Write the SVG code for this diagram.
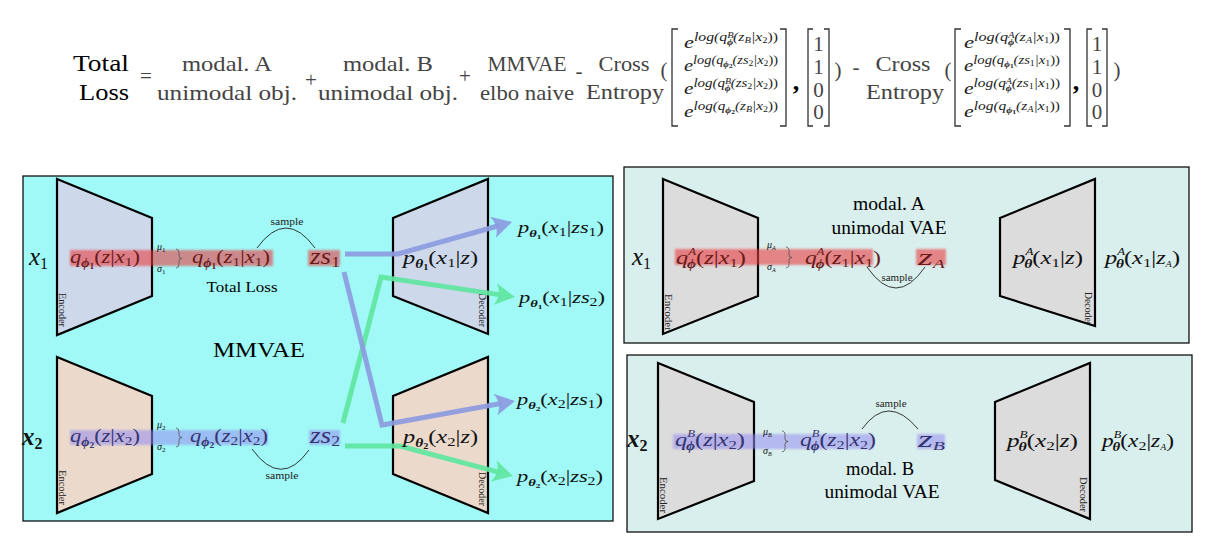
<svg xmlns="http://www.w3.org/2000/svg" width="1211" height="553" viewBox="0 0 1211 553">
<style>
.lbl{font-family:"Liberation Serif",serif;fill:#444;font-size:21px}
.blk{font-family:"Liberation Serif",serif;fill:#000}
.m{font-family:"Liberation Serif",serif;font-style:italic;fill:#111}
.fm{font-family:"Liberation Serif",serif;font-style:italic;fill:#222;font-size:17px}
.up{font-style:normal}
.b{font-weight:bold}
.tiny{font-family:"Liberation Serif",serif;font-size:10px;fill:#222}
.rot{font-family:"Liberation Serif",serif;font-size:9.5px;fill:#222}
.panel{stroke:#111;stroke-width:1.3}
.trap{stroke:#000;stroke-width:2.2;stroke-linejoin:miter}
.brk{fill:none;stroke:#333;stroke-width:1.3}
.arc{fill:none;stroke:#222;stroke-width:0.9}
.red{fill:rgb(235,55,60);fill-opacity:0.58}
.blu{fill:rgb(150,140,240);fill-opacity:0.55}
.rt{fill:#6b1a1a}
.bt{fill:#34346e}
.cp{fill:none;stroke:#8c9be0;stroke-opacity:0.92;stroke-width:5;stroke-linejoin:miter}
.cg{fill:none;stroke:#5fe6a0;stroke-opacity:0.92;stroke-width:5;stroke-linejoin:miter}
</style>
<defs>
<filter id="soft" x="-5%" y="-40%" width="110%" height="180%"><feGaussianBlur stdDeviation="1"/></filter>
<path id="brace" d="M0,0 Q3,0 3,4 L3,7 Q3,9.5 6,9.5 Q3,9.5 3,12 L3,15 Q3,19 0,19" fill="none" stroke="#555" stroke-width="0.8"/>
<marker id="ap" viewBox="0 0 20 22" refX="7" refY="11" markerWidth="20" markerHeight="22" markerUnits="userSpaceOnUse" orient="auto"><path d="M0,0 L20,11 L0,22 Q7,11 0,0Z" fill="#8c9be0" fill-opacity="0.92"/></marker>
<marker id="ag" viewBox="0 0 20 22" refX="7" refY="11" markerWidth="20" markerHeight="22" markerUnits="userSpaceOnUse" orient="auto"><path d="M0,0 L20,11 L0,22 Q7,11 0,0Z" fill="#5fe6a0" fill-opacity="0.92"/></marker>
</defs>
<rect width="1211" height="553" fill="#fff"/>

<g id="formula">
<text class="blk" x="101" y="71" font-size="24" text-anchor="middle" textLength="56" lengthAdjust="spacingAndGlyphs">Total</text>
<text class="blk" x="104" y="100" font-size="24" text-anchor="middle" textLength="50" lengthAdjust="spacingAndGlyphs">Loss</text>
<text class="lbl" x="146" y="83" text-anchor="middle">=</text>
<text class="lbl" x="227" y="71" text-anchor="middle" textLength="90" lengthAdjust="spacingAndGlyphs">modal. A</text>
<text class="lbl" x="227" y="100" text-anchor="middle" textLength="140" lengthAdjust="spacingAndGlyphs">unimodal obj.</text>
<text class="lbl" x="311" y="87" text-anchor="middle">+</text>
<text class="lbl" x="388" y="71" text-anchor="middle" textLength="90" lengthAdjust="spacingAndGlyphs">modal. B</text>
<text class="lbl" x="388" y="100" text-anchor="middle" textLength="140" lengthAdjust="spacingAndGlyphs">unimodal obj.</text>
<text class="lbl" x="465" y="83" text-anchor="middle">+</text>
<text class="lbl" x="527" y="71" text-anchor="middle" textLength="79" lengthAdjust="spacingAndGlyphs">MMVAE</text>
<text class="lbl" x="527" y="100" text-anchor="middle" textLength="94" lengthAdjust="spacingAndGlyphs">elbo naive</text>
<text class="lbl" x="579" y="78" text-anchor="middle">-</text>
<text class="lbl" x="624" y="71" text-anchor="middle" textLength="51" lengthAdjust="spacingAndGlyphs">Cross</text>
<text class="lbl" x="625" y="99" text-anchor="middle" textLength="78" lengthAdjust="spacingAndGlyphs">Entropy</text>
<text class="lbl" x="664" y="77" font-size="30" text-anchor="middle">(</text>
<path class="brk" d="M678,29 L672,29 L672,126 L678,126"/>
<path class="brk" d="M780,29 L786,29 L786,126 L780,126"/>
<text class="fm" x="731" y="48" text-anchor="middle" textLength="94" lengthAdjust="spacingAndGlyphs">e<tspan font-size="12" dy="-7">log(q</tspan><tspan font-size="8" dy="-3">B</tspan><tspan font-size="8" class="b" dx="-5" dy="7">ϕ</tspan><tspan font-size="12" dy="-4">(z</tspan><tspan font-size="8" dy="2">B</tspan><tspan font-size="12" dy="-2">|x</tspan><tspan font-size="8" class="up" dy="2">2</tspan><tspan font-size="12" class="up" dy="-2">))</tspan></text>
<text class="fm" x="731" y="71" text-anchor="middle" textLength="94" lengthAdjust="spacingAndGlyphs">e<tspan font-size="12" dy="-7">log(q</tspan><tspan font-size="8" class="b" dy="3">ϕ</tspan><tspan font-size="6" class="up b" dy="1">2</tspan><tspan font-size="12" dy="-4">(zs</tspan><tspan font-size="8" class="up" dy="2">2</tspan><tspan font-size="12" dy="-2">|x</tspan><tspan font-size="8" class="up" dy="2">2</tspan><tspan font-size="12" class="up" dy="-2">))</tspan></text>
<text class="fm" x="731" y="94" text-anchor="middle" textLength="94" lengthAdjust="spacingAndGlyphs">e<tspan font-size="12" dy="-7">log(q</tspan><tspan font-size="8" dy="-3">B</tspan><tspan font-size="8" class="b" dx="-5" dy="7">ϕ</tspan><tspan font-size="12" dy="-4">(zs</tspan><tspan font-size="8" class="up" dy="2">2</tspan><tspan font-size="12" dy="-2">|x</tspan><tspan font-size="8" class="up" dy="2">2</tspan><tspan font-size="12" class="up" dy="-2">))</tspan></text>
<text class="fm" x="731" y="117" text-anchor="middle" textLength="94" lengthAdjust="spacingAndGlyphs">e<tspan font-size="12" dy="-7">log(q</tspan><tspan font-size="8" class="b" dy="3">ϕ</tspan><tspan font-size="6" class="up b" dy="1">2</tspan><tspan font-size="12" dy="-4">(z</tspan><tspan font-size="8" dy="2">B</tspan><tspan font-size="12" dy="-2">|x</tspan><tspan font-size="8" class="up" dy="2">2</tspan><tspan font-size="12" class="up" dy="-2">))</tspan></text>
<text class="blk" x="796" y="90" font-size="26" font-weight="bold" text-anchor="middle" fill="#333">,</text>
<path class="brk" d="M813,29 L808,29 L808,126 L813,126"/>
<path class="brk" d="M824,29 L829,29 L829,126 L824,126"/>
<g class="lbl" font-size="16" text-anchor="middle"><text x="818.5" y="51">1</text><text x="818.5" y="74">1</text><text x="818.5" y="97">0</text><text x="818.5" y="119">0</text></g>
<text class="lbl" x="838" y="77" font-size="30" text-anchor="middle">)</text>
<text class="lbl" x="856" y="74" text-anchor="middle">-</text>
<text class="lbl" x="903" y="71" text-anchor="middle" textLength="55" lengthAdjust="spacingAndGlyphs">Cross</text>
<text class="lbl" x="905" y="99" text-anchor="middle" textLength="78" lengthAdjust="spacingAndGlyphs">Entropy</text>
<text class="lbl" x="948" y="77" font-size="30" text-anchor="middle">(</text>
<path class="brk" d="M961,29 L955,29 L955,126 L961,126"/>
<path class="brk" d="M1064,29 L1070,29 L1070,126 L1064,126"/>
<text class="fm" x="1012" y="48" text-anchor="middle" textLength="96" lengthAdjust="spacingAndGlyphs">e<tspan font-size="12" dy="-7">log(q</tspan><tspan font-size="8" dy="-3">A</tspan><tspan font-size="8" class="b" dx="-5" dy="7">ϕ</tspan><tspan font-size="12" dy="-4">(z</tspan><tspan font-size="8" dy="2">A</tspan><tspan font-size="12" dy="-2">|x</tspan><tspan font-size="8" class="up" dy="2">1</tspan><tspan font-size="12" class="up" dy="-2">))</tspan></text>
<text class="fm" x="1012" y="71" text-anchor="middle" textLength="96" lengthAdjust="spacingAndGlyphs">e<tspan font-size="12" dy="-7">log(q</tspan><tspan font-size="8" class="b" dy="3">ϕ</tspan><tspan font-size="6" class="up b" dy="1">1</tspan><tspan font-size="12" dy="-4">(zs</tspan><tspan font-size="8" class="up" dy="2">1</tspan><tspan font-size="12" dy="-2">|x</tspan><tspan font-size="8" class="up" dy="2">1</tspan><tspan font-size="12" class="up" dy="-2">))</tspan></text>
<text class="fm" x="1012" y="94" text-anchor="middle" textLength="96" lengthAdjust="spacingAndGlyphs">e<tspan font-size="12" dy="-7">log(q</tspan><tspan font-size="8" dy="-3">A</tspan><tspan font-size="8" class="b" dx="-5" dy="7">ϕ</tspan><tspan font-size="12" dy="-4">(zs</tspan><tspan font-size="8" class="up" dy="2">1</tspan><tspan font-size="12" dy="-2">|x</tspan><tspan font-size="8" class="up" dy="2">1</tspan><tspan font-size="12" class="up" dy="-2">))</tspan></text>
<text class="fm" x="1012" y="117" text-anchor="middle" textLength="96" lengthAdjust="spacingAndGlyphs">e<tspan font-size="12" dy="-7">log(q</tspan><tspan font-size="8" class="b" dy="3">ϕ</tspan><tspan font-size="6" class="up b" dy="1">1</tspan><tspan font-size="12" dy="-4">(z</tspan><tspan font-size="8" dy="2">A</tspan><tspan font-size="12" dy="-2">|x</tspan><tspan font-size="8" class="up" dy="2">1</tspan><tspan font-size="12" class="up" dy="-2">))</tspan></text>
<text class="blk" x="1076" y="90" font-size="26" font-weight="bold" text-anchor="middle" fill="#333">,</text>
<path class="brk" d="M1092,29 L1087,29 L1087,126 L1092,126"/>
<path class="brk" d="M1102,29 L1107,29 L1107,126 L1102,126"/>
<g class="lbl" font-size="16" text-anchor="middle"><text x="1097" y="51">1</text><text x="1097" y="74">1</text><text x="1097" y="97">0</text><text x="1097" y="119">0</text></g>
<text class="lbl" x="1117" y="77" font-size="30" text-anchor="middle">)</text>
</g>

<g id="mmvae-panel">
<rect class="panel" x="23" y="176" width="590" height="345" fill="#a0f9f6" stroke-width="1.6"/>
<text class="blk" x="259" y="357" font-size="22" text-anchor="middle" textLength="92" lengthAdjust="spacingAndGlyphs">MMVAE</text>
<text class="blk" x="242" y="292" font-size="15" text-anchor="middle" fill="#333" textLength="71" lengthAdjust="spacingAndGlyphs">Total Loss</text>
</g>

<g id="encoder1">
<polygon class="trap" points="57,179 152,218 152,296 57,335" fill="#cdd9ea"/>
<text class="rot" transform="translate(59,293) rotate(90)" textLength="34" lengthAdjust="spacingAndGlyphs">Encoder</text>
</g>
<g id="encoder2">
<polygon class="trap" points="57,357 152,396 152,474 57,513" fill="#ebdacb"/>
<text class="rot" transform="translate(59,470) rotate(90)" textLength="35" lengthAdjust="spacingAndGlyphs">Encoder</text>
</g>
<g id="decoder1">
<polygon class="trap" points="393,218 488,179 488,334 393,296" fill="#cdd9ea"/>
<text class="rot" transform="translate(479,293) rotate(90)" textLength="34" lengthAdjust="spacingAndGlyphs">Decoder</text>
</g>
<g id="decoder2">
<polygon class="trap" points="393,396 488,357 488,513 393,474" fill="#ebdacb"/>
<text class="rot" transform="translate(479,472) rotate(90)" textLength="34" lengthAdjust="spacingAndGlyphs">Decoder</text>
</g>

<g id="latent1">
<text class="m" x="29" y="265" font-size="25">x<tspan class="up" font-size="16" dy="4">1</tspan></text>
<rect class="red" x="70" y="250" width="203" height="16" filter="url(#soft)"/>
<rect class="red" x="308" y="250" width="32" height="16" filter="url(#soft)"/>
<text class="m rt" x="70" y="263" font-size="19" textLength="70" lengthAdjust="spacingAndGlyphs">q<tspan class="b" font-size="12" dy="4">ϕ</tspan><tspan class="up b" font-size="8" dy="2">1</tspan><tspan class="up" dy="-6">(</tspan>z<tspan class="up">|</tspan>x<tspan class="up" font-size="13" dy="3">1</tspan><tspan class="up" dy="-3">)</tspan></text>
<text class="m" x="157" y="250" font-size="10" fill="#333">μ<tspan class="up" font-size="7" dy="2">1</tspan></text>
<text class="m" x="157" y="272" font-size="10" fill="#333">σ<tspan class="up" font-size="7" dy="2">1</tspan></text>
<use href="#brace" transform="translate(176,249)"/>
<text class="m rt" x="192" y="263" font-size="19" textLength="78" lengthAdjust="spacingAndGlyphs">q<tspan class="b" font-size="12" dy="4">ϕ</tspan><tspan class="up b" font-size="8" dy="2">1</tspan><tspan class="up" dy="-6">(</tspan>z<tspan class="up" font-size="13" dy="3">1</tspan><tspan class="up" dy="-3">|</tspan>x<tspan class="up" font-size="13" dy="3">1</tspan><tspan class="up" dy="-3">)</tspan></text>
<text class="m rt" x="310" y="264" font-size="23" textLength="30" lengthAdjust="spacingAndGlyphs">zs<tspan class="up" font-size="15" dy="3">1</tspan></text>
<path class="arc" d="M257,248 Q286,208 315,248"/>
<text class="tiny" x="287" y="225" text-anchor="middle" textLength="33" lengthAdjust="spacingAndGlyphs">sample</text>
</g>

<g id="latent2">
<text class="m b" x="22" y="445" font-size="25">x<tspan class="up" font-size="16" dy="4">2</tspan></text>
<rect class="blu" x="70" y="430" width="198" height="15" filter="url(#soft)"/>
<rect class="blu" x="309" y="430" width="31" height="15" filter="url(#soft)"/>
<text class="m bt" x="70" y="442" font-size="19" textLength="70" lengthAdjust="spacingAndGlyphs">q<tspan class="b" font-size="12" dy="4">ϕ</tspan><tspan class="up b" font-size="8" dy="2">2</tspan><tspan class="up" dy="-6">(</tspan>z<tspan class="up">|</tspan>x<tspan class="up" font-size="13" dy="3">2</tspan><tspan class="up" dy="-3">)</tspan></text>
<text class="m" x="157" y="428" font-size="10" fill="#333">μ<tspan class="up" font-size="7" dy="2">2</tspan></text>
<text class="m" x="157" y="450" font-size="10" fill="#333">σ<tspan class="up" font-size="7" dy="2">2</tspan></text>
<use href="#brace" transform="translate(176,428)"/>
<text class="m bt" x="190" y="442" font-size="19" textLength="78" lengthAdjust="spacingAndGlyphs">q<tspan class="b" font-size="12" dy="4">ϕ</tspan><tspan class="up b" font-size="8" dy="2">2</tspan><tspan class="up" dy="-6">(</tspan>z<tspan class="up" font-size="13" dy="3">2</tspan><tspan class="up" dy="-3">|</tspan>x<tspan class="up" font-size="13" dy="3">2</tspan><tspan class="up" dy="-3">)</tspan></text>
<text class="m bt" x="310" y="443" font-size="23" textLength="30" lengthAdjust="spacingAndGlyphs">zs<tspan class="up" font-size="15" dy="3">2</tspan></text>
<path class="arc" d="M252,449 Q281,489 309,450"/>
<text class="tiny" x="282" y="479" text-anchor="middle" textLength="33" lengthAdjust="spacingAndGlyphs">sample</text>
</g>

<g id="connectors">
<path class="cp" d="M345,254 L398,254 L499.5,225.5" marker-end="url(#ap)"/>
<path class="cg" d="M343,423 L381,277 L502.1,295.1" marker-end="url(#ag)"/>
<path class="cp" d="M344,272 L382,425 L502.2,403.3" marker-end="url(#ap)"/>
<path class="cg" d="M345,446 L400,446 L500.4,472.7" marker-end="url(#ag)"/>
</g>

<g id="mmvae-outputs">
<text class="m" x="403" y="264" font-size="19" textLength="75" lengthAdjust="spacingAndGlyphs">p<tspan class="b" font-size="12" dy="4">θ</tspan><tspan class="up b" font-size="8" dy="2">1</tspan><tspan class="up" dy="-6">(</tspan>x<tspan class="up" font-size="13" dy="3">1</tspan><tspan class="up" dy="-3">|</tspan>z<tspan class="up">)</tspan></text>
<text class="m" x="403" y="443" font-size="19" textLength="75" lengthAdjust="spacingAndGlyphs">p<tspan class="b" font-size="12" dy="4">θ</tspan><tspan class="up b" font-size="8" dy="2">2</tspan><tspan class="up" dy="-6">(</tspan>x<tspan class="up" font-size="13" dy="3">2</tspan><tspan class="up" dy="-3">|</tspan>z<tspan class="up">)</tspan></text>
<text class="m" x="518" y="233" font-size="17" textLength="86" lengthAdjust="spacingAndGlyphs">p<tspan class="b" font-size="11" dy="4">θ</tspan><tspan class="up b" font-size="7" dy="2">1</tspan><tspan class="up" dy="-6">(</tspan>x<tspan class="up" font-size="12" dy="3">1</tspan><tspan class="up" dy="-3">|</tspan>zs<tspan class="up" font-size="12" dy="3">1</tspan><tspan class="up" dy="-3">)</tspan></text>
<text class="m" x="519" y="303" font-size="17" textLength="86" lengthAdjust="spacingAndGlyphs">p<tspan class="b" font-size="11" dy="4">θ</tspan><tspan class="up b" font-size="7" dy="2">1</tspan><tspan class="up" dy="-6">(</tspan>x<tspan class="up" font-size="12" dy="3">1</tspan><tspan class="up" dy="-3">|</tspan>zs<tspan class="up" font-size="12" dy="3">2</tspan><tspan class="up" dy="-3">)</tspan></text>
<text class="m" x="517" y="405" font-size="17" textLength="86" lengthAdjust="spacingAndGlyphs">p<tspan class="b" font-size="11" dy="4">θ</tspan><tspan class="up b" font-size="7" dy="2">2</tspan><tspan class="up" dy="-6">(</tspan>x<tspan class="up" font-size="12" dy="3">2</tspan><tspan class="up" dy="-3">|</tspan>zs<tspan class="up" font-size="12" dy="3">1</tspan><tspan class="up" dy="-3">)</tspan></text>
<text class="m" x="517" y="482" font-size="17" textLength="86" lengthAdjust="spacingAndGlyphs">p<tspan class="b" font-size="11" dy="4">θ</tspan><tspan class="up b" font-size="7" dy="2">2</tspan><tspan class="up" dy="-6">(</tspan>x<tspan class="up" font-size="12" dy="3">2</tspan><tspan class="up" dy="-3">|</tspan>zs<tspan class="up" font-size="12" dy="3">2</tspan><tspan class="up" dy="-3">)</tspan></text>
</g>

<g id="vae-a">
<rect class="panel" x="624" y="167" width="565" height="176" fill="#d9efed"/>
<polygon class="trap" points="663,179 758,218 758,296 663,334" fill="#dcdcdc"/>
<text class="rot" transform="translate(665,294) rotate(90)" textLength="37" lengthAdjust="spacingAndGlyphs">Encoder</text>
<polygon class="trap" points="1000,218 1095,179 1095,326 1000,296" fill="#dcdcdc"/>
<text class="rot" transform="translate(1085,292) rotate(90)" textLength="33" lengthAdjust="spacingAndGlyphs">Decoder</text>
<text class="blk" x="889" y="210" font-size="18" text-anchor="middle" fill="#222" textLength="72" lengthAdjust="spacingAndGlyphs">modal. A</text>
<text class="blk" x="889" y="234" font-size="18" text-anchor="middle" fill="#222" textLength="115" lengthAdjust="spacingAndGlyphs">unimodal VAE</text>
<text class="m" x="632" y="265" font-size="25">x<tspan class="up" font-size="16" dy="4">1</tspan></text>
<rect class="red" x="675" y="249" width="198" height="16" filter="url(#soft)"/>
<rect class="red" x="916" y="249" width="30" height="16" filter="url(#soft)"/>
<text class="m rt" x="676" y="264" font-size="19" textLength="70" lengthAdjust="spacingAndGlyphs">q<tspan font-size="10" dy="-9">A</tspan><tspan class="b" font-size="12" dx="-7" dy="13">ϕ</tspan><tspan class="up" dy="-4">(</tspan>z<tspan class="up">|</tspan>x<tspan class="up" font-size="13" dy="3">1</tspan><tspan class="up" dy="-3">)</tspan></text>
<text class="m" x="767" y="248" font-size="10" fill="#333">μ<tspan font-size="6" dy="2">A</tspan></text>
<text class="m" x="767" y="270" font-size="10" fill="#333">σ<tspan font-size="6" dy="2">A</tspan></text>
<use href="#brace" transform="translate(786,247) scale(1,1.1)"/>
<text class="m rt" x="805" y="264" font-size="19" textLength="76" lengthAdjust="spacingAndGlyphs">q<tspan font-size="10" dy="-9">A</tspan><tspan class="b" font-size="12" dx="-7" dy="13">ϕ</tspan><tspan class="up" dy="-4">(</tspan>z<tspan class="up" font-size="13" dy="3">1</tspan><tspan class="up" dy="-3">|</tspan>x<tspan class="up" font-size="13" dy="3">1</tspan><tspan class="up" dy="-3">)</tspan></text>
<text class="m rt" x="918" y="265" font-size="23" textLength="27" lengthAdjust="spacingAndGlyphs">z<tspan font-size="12" dy="3">A</tspan></text>
<path class="arc" d="M867,267 Q896,309 925,267"/>
<text class="tiny" x="897" y="281" text-anchor="middle" textLength="31" lengthAdjust="spacingAndGlyphs">sample</text>
<text class="m" x="1013" y="264" font-size="19" textLength="70" lengthAdjust="spacingAndGlyphs">p<tspan font-size="10" dy="-9">A</tspan><tspan class="b" font-size="12" dx="-7" dy="13">θ</tspan><tspan class="up" dy="-4">(</tspan>x<tspan class="up" font-size="13" dy="3">1</tspan><tspan class="up" dy="-3">|</tspan>z<tspan class="up">)</tspan></text>
<text class="m" x="1105" y="264" font-size="19" textLength="75" lengthAdjust="spacingAndGlyphs">p<tspan font-size="10" dy="-9">A</tspan><tspan class="b" font-size="12" dx="-7" dy="13">θ</tspan><tspan class="up" dy="-4">(</tspan>x<tspan class="up" font-size="13" dy="3">1</tspan><tspan class="up" dy="-3">|</tspan>z<tspan font-size="8" dy="3">A</tspan><tspan class="up" dy="-3">)</tspan></text>
</g>

<g id="vae-b">
<rect class="panel" x="627" y="355" width="565" height="177" fill="#d9efed"/>
<polygon class="trap" points="658,363 754,402 754,481 658,519" fill="#dcdcdc"/>
<text class="rot" transform="translate(660,477) rotate(90)" textLength="36" lengthAdjust="spacingAndGlyphs">Encoder</text>
<polygon class="trap" points="995,402 1090,363 1090,519 995,480" fill="#dcdcdc"/>
<text class="rot" transform="translate(1080,477) rotate(90)" textLength="35" lengthAdjust="spacingAndGlyphs">Decoder</text>
<text class="blk" x="880" y="475" font-size="18" text-anchor="middle" fill="#222" textLength="68" lengthAdjust="spacingAndGlyphs">modal. B</text>
<text class="blk" x="882" y="498" font-size="18" text-anchor="middle" fill="#222" textLength="115" lengthAdjust="spacingAndGlyphs">unimodal VAE</text>
<text class="m b" x="627" y="447" font-size="25">x<tspan class="up" font-size="16" dy="4">2</tspan></text>
<rect class="blu" x="673" y="434" width="200" height="15" filter="url(#soft)"/>
<rect class="blu" x="917" y="434" width="28" height="15" filter="url(#soft)"/>
<text class="m bt" x="675" y="446" font-size="19" textLength="70" lengthAdjust="spacingAndGlyphs">q<tspan font-size="10" dy="-9">B</tspan><tspan class="b" font-size="12" dx="-7" dy="13">ϕ</tspan><tspan class="up" dy="-4">(</tspan>z<tspan class="up">|</tspan>x<tspan class="up" font-size="13" dy="3">2</tspan><tspan class="up" dy="-3">)</tspan></text>
<text class="m" x="763" y="435" font-size="10" fill="#333">μ<tspan font-size="6" dy="2">B</tspan></text>
<text class="m" x="763" y="454" font-size="10" fill="#333">σ<tspan font-size="6" dy="2">B</tspan></text>
<use href="#brace" transform="translate(782,431) scale(1,1.1)"/>
<text class="m bt" x="800" y="446" font-size="19" textLength="76" lengthAdjust="spacingAndGlyphs">q<tspan font-size="10" dy="-9">B</tspan><tspan class="b" font-size="12" dx="-7" dy="13">ϕ</tspan><tspan class="up" dy="-4">(</tspan>z<tspan class="up" font-size="13" dy="3">2</tspan><tspan class="up" dy="-3">|</tspan>x<tspan class="up" font-size="13" dy="3">2</tspan><tspan class="up" dy="-3">)</tspan></text>
<text class="m bt" x="918" y="447" font-size="23" textLength="27" lengthAdjust="spacingAndGlyphs">z<tspan font-size="12" dy="3">B</tspan></text>
<path class="arc" d="M862,429 Q888,393 918,429"/>
<text class="tiny" x="891" y="407" text-anchor="middle" textLength="31" lengthAdjust="spacingAndGlyphs">sample</text>
<text class="m" x="1007" y="447" font-size="19" textLength="71" lengthAdjust="spacingAndGlyphs">p<tspan font-size="10" dy="-9">B</tspan><tspan class="b" font-size="12" dx="-7" dy="13">θ</tspan><tspan class="up" dy="-4">(</tspan>x<tspan class="up" font-size="13" dy="3">2</tspan><tspan class="up" dy="-3">|</tspan>z<tspan class="up">)</tspan></text>
<text class="m" x="1102" y="447" font-size="19" textLength="72" lengthAdjust="spacingAndGlyphs">p<tspan font-size="10" dy="-9">B</tspan><tspan class="b" font-size="12" dx="-7" dy="13">θ</tspan><tspan class="up" dy="-4">(</tspan>x<tspan class="up" font-size="13" dy="3">2</tspan><tspan class="up" dy="-3">|</tspan>z<tspan font-size="8" dy="3">A</tspan><tspan class="up" dy="-3">)</tspan></text>
</g>
</svg>
